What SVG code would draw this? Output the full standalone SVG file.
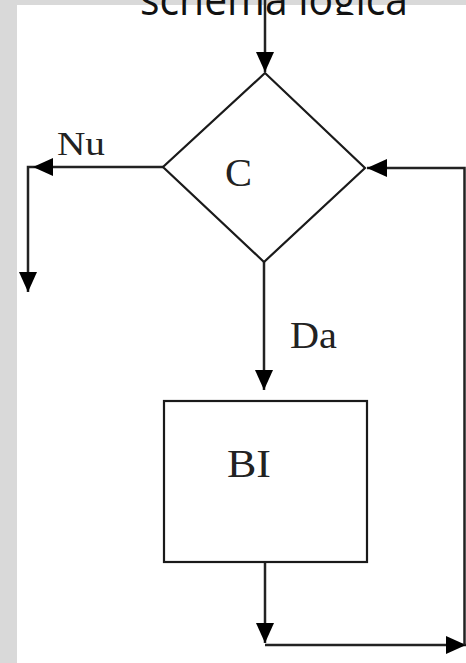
<svg xmlns="http://www.w3.org/2000/svg" width="466" height="663" viewBox="0 0 466 663">
  <style>
    .ln { fill: none; stroke: #222; stroke-width: 2.5; }
    .shape { fill: #fff; stroke: #1a1a1a; stroke-width: 2.2; }
    .lbl { font-family: "Liberation Serif", "Times New Roman", serif; fill: #222; }
    .title { font-family: "Open Sans", "Lato", "Liberation Sans", sans-serif; fill: #111; font-size: 44px; }
  </style>
  <defs>
    <marker id="arr" markerUnits="userSpaceOnUse" markerWidth="20" markerHeight="20" viewBox="0 0 20 20" refX="20" refY="10" orient="auto">
      <path d="M0,1 L20,10 L0,19 z" fill="#000"/>
    </marker>
    <clipPath id="titleClip"><rect x="0" y="0" width="466" height="15"/></clipPath>
  </defs>
  <rect x="0" y="0" width="466" height="663" fill="#d9d9d9"/>
  <rect x="17" y="5" width="449" height="658" fill="#fff"/>

  <g id="connectors">
    <path class="ln" d="M265,0 V72" marker-end="url(#arr)"/>
    <path class="ln" d="M163,167 H33" marker-end="url(#arr)"/>
    <path class="ln" d="M33,167 H28 V292" marker-end="url(#arr)"/>
    <path class="ln" d="M264,262 V390" marker-end="url(#arr)"/>
    <path class="ln" d="M265,562 V643" marker-end="url(#arr)"/>
    <path class="ln" d="M265,645 H466" marker-end="url(#arr)"/>
    <path class="ln" d="M464.5,645 V168 H367" marker-end="url(#arr)"/>
  </g>

  <g id="title" clip-path="url(#titleClip)">
    <text class="title" x="140" y="15" textLength="268" lengthAdjust="spacingAndGlyphs">schema logica</text>
  </g>

  <g id="decision">
    <polygon class="shape" points="265,73 365,168 264,262 163,167"/>
    <text class="lbl" x="225" y="186" font-size="40" textLength="27" lengthAdjust="spacingAndGlyphs">C</text>
  </g>

  <g id="block">
    <rect class="shape" x="164" y="401" width="203" height="161" stroke="#333" stroke-width="3"/>
    <text class="lbl" x="227" y="477" font-size="40" textLength="44" lengthAdjust="spacingAndGlyphs">BI</text>
  </g>

  <g id="labels">
    <text class="lbl" x="57" y="155" font-size="34" textLength="48" lengthAdjust="spacingAndGlyphs">Nu</text>
    <text class="lbl" x="290" y="348" font-size="37" textLength="47" lengthAdjust="spacingAndGlyphs">Da</text>
  </g>
</svg>
